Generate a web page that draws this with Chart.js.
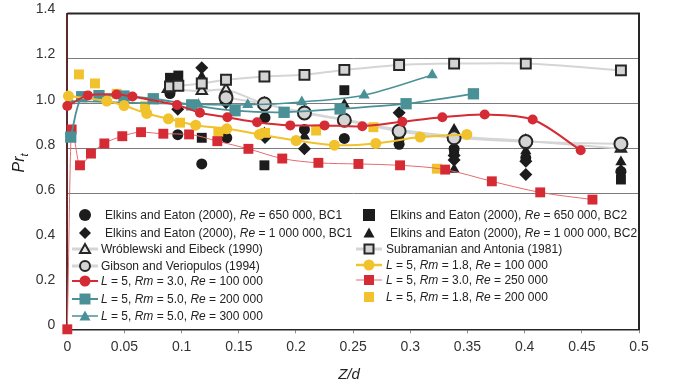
<!DOCTYPE html>
<html>
<head>
<meta charset="utf-8">
<script src="https://cdn.jsdelivr.net/npm/chart.js@4.4.0/dist/chart.umd.min.js"></script>
<style>
body{margin:0;background:#fff;}
#wrap{position:relative;width:676px;height:390px;font-family:"Liberation Sans",Arial,sans-serif;color:#222;}
#c{position:absolute;left:0;top:0;}
.lg{position:absolute;white-space:nowrap;font-size:12.5px;line-height:14px;transform-origin:0 50%;transform:translateY(-50%) scaleX(0.96);}
.ic{position:absolute;overflow:visible;}
#yt{position:absolute;left:20px;top:163px;transform:translate(-50%,-50%) rotate(-90deg);font-size:16px;font-style:italic;white-space:nowrap;}
#yt sub{font-size:11px;}
#xt{position:absolute;left:349px;top:373px;transform:translate(-50%,-50%);font-size:15px;font-style:italic;}
</style>
</head>
<body>
<div id="wrap">
<canvas id="c" width="676" height="390"></canvas>
<div id="yt">Pr<sub>t</sub></div>
<div id="xt">Z/d</div>
<div id="legend"></div>
</div>
<script>
// tick labels
var xTicks = ['0','0.05','0.1','0.15','0.2','0.25','0.3','0.35','0.4','0.45','0.5'];
var yTicks = ['0','0.2','0.4','0.6','0.8','1.0','1.2','1.4'];

// L = 5, Rm = 3.0, Re = 100 000
var r3a_x = [0, 0.018, 0.043, 0.057, 0.096, 0.116, 0.140, 0.166, 0.195, 0.225, 0.258, 0.293, 0.328, 0.365, 0.407, 0.449];
var r3a_y = [0.99, 1.037, 1.041, 1.032, 0.994, 0.96, 0.94, 0.918, 0.904, 0.904, 0.90, 0.92, 0.94, 0.952, 0.93, 0.794];
// L = 5, Rm = 3.0, Re = 250 000
var r3b_x = [0, 0.0038, 0.0111, 0.0207, 0.0324, 0.0481, 0.0645, 0.084, 0.1065, 0.1312, 0.1584, 0.188, 0.2196, 0.2546, 0.291, 0.3305, 0.3713, 0.4136, 0.4593];
var r3b_y = [0, 0.886, 0.727, 0.779, 0.824, 0.856, 0.874, 0.867, 0.864, 0.834, 0.80, 0.757, 0.738, 0.733, 0.727, 0.708, 0.656, 0.607, 0.575];
// L = 5, Rm = 1.8, Re = 100 000
var y1_x = [0.001, 0.0345, 0.0496, 0.0695, 0.0884, 0.1123, 0.1395, 0.168, 0.2001, 0.2336, 0.2698, 0.3086, 0.3494];
var y1_y = [1.034, 1.012, 0.992, 0.957, 0.933, 0.905, 0.889, 0.864, 0.837, 0.816, 0.824, 0.852, 0.864];
// L = 5, Rm = 1.8, Re = 200 000
var y2_x = [0.0102, 0.0242, 0.0432, 0.068, 0.0986, 0.1321, 0.173, 0.2176, 0.2677, 0.3232];
var y2_y = [1.13, 1.09, 1.044, 0.989, 0.916, 0.876, 0.871, 0.881, 0.896, 0.712];
// L = 5, Rm = 5.0, Re = 200 000
var t2_x = [0.003, 0.0126, 0.0277, 0.0496, 0.0752, 0.1088, 0.1467, 0.1896, 0.2386, 0.2963, 0.3552];
var t2_y = [0.852, 1.031, 1.036, 1.034, 1.022, 0.995, 0.969, 0.962, 0.977, 1.0, 1.044];
// L = 5, Rm = 5.0, Re = 300 000
var t3_x = [0.002, 0.1146, 0.1578, 0.2051, 0.2596, 0.3191];
var t3_y = [1.012, 0.997, 0.995, 1.008, 1.038, 1.127];
// Subramanian and Antonia (1981)
var sa_x = [0.0898, 0.0971, 0.1176, 0.1388, 0.1724, 0.2074, 0.2423, 0.2902, 0.3383, 0.401, 0.4842];
var sa_y = [1.077, 1.08, 1.09, 1.106, 1.121, 1.128, 1.15, 1.172, 1.178, 1.178, 1.148];
// Gibson and Veriopulos (1994)
var gv_x = [0.1388, 0.1724, 0.2074, 0.2423, 0.2902, 0.3383, 0.401, 0.4842];
var gv_y = [1.027, 0.999, 0.959, 0.927, 0.878, 0.849, 0.832, 0.822];
// Wroblewski and Eibeck (1990)
var we_x = [0.088, 0.1176, 0.1388, 0.1724, 0.2074, 0.2423, 0.2902, 0.3383, 0.401, 0.4842];
var we_y = [1.065, 1.056, 1.062, 1.0, 0.962, 0.93, 0.885, 0.856, 0.835, 0.80];
// Elkins and Eaton, Re = 650 000, BC1
var e1_x = [0.0898, 0.0966, 0.1176, 0.1395, 0.1729, 0.2074, 0.2423, 0.2902, 0.3383, 0.401, 0.4842];
var e1_y = [1.045, 0.863, 0.733, 0.849, 0.938, 0.886, 0.846, 0.82, 0.80, 0.76, 0.70];
// Elkins and Eaton, Re = 1 000 000, BC1
var e2_x = [0.0966, 0.1176, 0.1388, 0.1729, 0.2074, 0.2902, 0.3383, 0.3383, 0.401, 0.401];
var e2_y = [0.975, 1.16, 1.004, 0.85, 0.80, 0.96, 0.77, 0.75, 0.745, 0.686];
// Elkins and Eaton, Re = 650 000, BC2
var e3_x = [0.0898, 0.0971, 0.1176, 0.1724, 0.2423, 0.2902, 0.3383, 0.4842];
var e3_y = [1.115, 1.125, 0.849, 0.727, 1.06, 0.84, 0.79, 0.664];
// Elkins and Eaton, Re = 1 000 000, BC2
var e4_x = [0.1176, 0.1724, 0.2074, 0.2423, 0.2902, 0.3383, 0.3383, 0.401, 0.4842, 0.4842];
var e4_y = [1.12, 0.87, 0.856, 0.997, 0.85, 0.886, 0.708, 0.79, 0.742, 0.708];

function pts(xs, ys) {
	var out = [];
	for (var i = 0; i < xs.length; i++) out.push({x: xs[i], y: ys[i]});
	return out;
}

var RED = '#d42b34', YEL = '#f1c22c', TEAL = '#4a9197', GRAYL = '#d5d5d5', GRAYF = '#d4d4d4', BLK = '#1c1c1c';

function marks(label, data, style, r, fill) {
	return {label: label, data: data, showLine: false, pointStyle: style, pointRadius: r,
		backgroundColor: fill, borderColor: fill, pointBorderWidth: 0, clip: false};
}

var datasets = [
	{label: 'L=5 Rm=3.0 Re=100000', data: pts(r3a_x, r3a_y), borderColor: RED, borderWidth: 2, tension: 0.3,
		pointStyle: 'circle', pointRadius: 5, backgroundColor: RED, pointBorderWidth: 0, clip: false},
	{label: 'L=5 Rm=1.8 Re=100000', data: pts(y1_x, y1_y), borderColor: YEL, borderWidth: 2, tension: 0.3,
		pointStyle: 'circle', pointRadius: 5.5, backgroundColor: YEL, pointBorderWidth: 0, clip: false},
	{label: 'L=5 Rm=5.0 Re=200000', data: pts(t2_x, t2_y), borderColor: TEAL, borderWidth: 1.8, tension: 0.3,
		pointStyle: 'rect', pointRadius: 8, backgroundColor: TEAL, pointBorderWidth: 0, clip: false},
	{label: 'L=5 Rm=5.0 Re=300000', data: pts(t3_x, t3_y), borderColor: TEAL, borderWidth: 1.5, tension: 0.3,
		pointStyle: 'triangle', pointRadius: 6.5, backgroundColor: TEAL, pointBorderWidth: 0, clip: false},
	{label: 'L=5 Rm=3.0 Re=250000', data: pts(r3b_x, r3b_y), borderColor: '#e46c70', borderWidth: 1, cubicInterpolationMode: 'monotone',
		pointStyle: 'rect', pointRadius: 7, backgroundColor: RED, pointBorderColor: RED, pointBorderWidth: 0, clip: false},
	marks('L=5 Rm=1.8 Re=200000', pts(y2_x, y2_y), 'rect', 7, YEL),
	{label: 'Subramanian and Antonia (1981)', data: pts(sa_x, sa_y), borderColor: GRAYL, borderWidth: 2, tension: 0.3,
		pointStyle: 'rect', pointRadius: 7, backgroundColor: GRAYF, pointBorderColor: '#262626', pointBorderWidth: 2, clip: false},
	{label: 'Gibson and Veriopulos (1994)', data: pts(gv_x, gv_y), borderColor: GRAYL, borderWidth: 2, tension: 0.3,
		pointStyle: 'circle', pointRadius: 6.5, backgroundColor: GRAYF, pointBorderColor: '#262626', pointBorderWidth: 2, clip: false},
	{label: 'Wróblewski and Eibeck (1990)', data: pts(we_x, we_y), borderColor: GRAYL, borderWidth: 2, tension: 0.3,
		pointStyle: 'triangle', pointRadius: 6, backgroundColor: '#e6e6e6', pointBorderColor: '#262626', pointBorderWidth: 2, clip: false},
	marks('Elkins 650000 BC1', pts(e1_x, e1_y), 'circle', 5.5, BLK),
	marks('Elkins 1000000 BC1', pts(e2_x, e2_y), 'rectRot', 6.5, BLK),
	marks('Elkins 650000 BC2', pts(e3_x, e3_y), 'rect', 7, BLK),
	marks('Elkins 1000000 BC2', pts(e4_x, e4_y), 'triangle', 6.5, BLK)
];

var frame = {
	id: 'frame',
	afterDraw: function(chart) {
		var a = chart.chartArea, c = chart.ctx;
		c.save();
		c.strokeStyle = '#262626';
		c.lineWidth = 2;
		c.beginPath();
		c.moveTo(a.left, a.top);
		c.lineTo(a.right, a.top);
		c.lineTo(a.right, a.bottom);
		c.stroke();
		c.restore();
	}
};

var shownGrid = [0.6, 0.8, 1.0, 1.2];

new Chart(document.getElementById('c'), {
	type: 'line',
	data: {datasets: datasets},
	plugins: [frame],
	options: {
		responsive: false,
		animation: false,
		layout: {padding: {top: 13.5, right: 37, left: 0, bottom: 0}},
		plugins: {legend: {display: false}, tooltip: {enabled: false}},
		scales: {
			x: {
				type: 'linear', min: 0, max: 0.5,
				afterFit: function(s) { s.height = 60.7; },
				ticks: {stepSize: 0.05, padding: 5, color: '#333', font: {family: 'Liberation Sans', size: 14},
					maxRotation: 0, autoSkip: false,
					callback: function(v, i) { return xTicks[i]; }},
				grid: {drawOnChartArea: false, tickLength: 4, color: '#888'},
				border: {color: '#262626', width: 1.5}
			},
			y: {
				type: 'linear', min: 0, max: 1.4,
				afterFit: function(s) { s.width = 67.3; s.paddingTop = 0; s.paddingBottom = 0; },
				ticks: {stepSize: 0.2, padding: 12, labelOffset: -4, color: '#333', font: {family: 'Liberation Sans', size: 14},
					callback: function(v, i) { return yTicks[i]; }},
				grid: {drawTicks: false, lineWidth: 1,
					color: function(ctx) {
						var v = ctx.tick ? ctx.tick.value : -1;
						for (var k = 0; k < shownGrid.length; k++) if (Math.abs(v - shownGrid[k]) < 1e-6) return '#7c7c7c';
						return 'rgba(0,0,0,0)';
					}},
				border: {color: '#5c2a2a', width: 2}
			}
		}
	}
});

// legend (HTML, two columns)
function icon(shape, fill, stroke, sw, r, line, lw, cx, cy) {
	var s = '<svg class="ic" width="30" height="16" style="left:' + (cx - 15) + 'px;top:' + (cy - 8) + 'px">';
	if (line) s += '<line x1="2" y1="8" x2="28" y2="8" stroke="' + line + '" stroke-width="' + lw + '"/>';
	var st = stroke ? ' stroke="' + stroke + '" stroke-width="' + sw + '"' : '';
	if (shape == 'circle') s += '<circle cx="15" cy="8" r="' + r + '" fill="' + fill + '"' + st + '/>';
	if (shape == 'square') s += '<rect x="' + (15 - r) + '" y="' + (8 - r) + '" width="' + 2 * r + '" height="' + 2 * r + '" fill="' + fill + '"' + st + '/>';
	if (shape == 'diamond') s += '<polygon points="15,' + (8 - r) + ' ' + (15 + r) + ',8 15,' + (8 + r) + ' ' + (15 - r) + ',8" fill="' + fill + '"' + st + '/>';
	if (shape == 'triangle') s += '<polygon points="15,' + (8 - r) + ' ' + (15 + r) + ',' + (8 + r * 0.8) + ' ' + (15 - r) + ',' + (8 + r * 0.8) + '" fill="' + fill + '"' + st + '/>';
	return s + '</svg>';
}

var legendItems = [
	{cx: 85, tx: 105, cy: 215, ic: ['circle', BLK, null, 0, 6], html: 'Elkins and Eaton (2000), <i>Re</i> = 650 000, BC1'},
	{cx: 85, tx: 105, cy: 232.5, ic: ['diamond', BLK, null, 0, 6], html: 'Elkins and Eaton (2000), <i>Re</i> = 1 000 000, BC1'},
	{cx: 85, tx: 100.5, cy: 249, ic: ['triangle', '#e6e6e6', '#262626', 2, 5, GRAYL, 3], html: 'Wróblewski and Eibeck (1990)'},
	{cx: 85, tx: 100.5, cy: 266, ic: ['circle', GRAYF, '#262626', 2, 5, GRAYL, 3], html: 'Gibson and Veriopulos (1994)'},
	{cx: 85, tx: 100.5, cy: 281, ic: ['circle', RED, null, 0, 5.5, RED, 2], html: '<i>L</i> = 5, <i>Rm</i> = 3.0, <i>Re</i> = 100 000'},
	{cx: 85, tx: 100.5, cy: 298.5, ic: ['square', TEAL, null, 0, 5.5, TEAL, 2], html: '<i>L</i> = 5, <i>Rm</i> = 5.0, <i>Re</i> = 200 000'},
	{cx: 85, tx: 100.5, cy: 315.5, ic: ['triangle', TEAL, null, 0, 5.5, TEAL, 1.5], html: '<i>L</i> = 5, <i>Rm</i> = 5.0, <i>Re</i> = 300 000'},
	{cx: 369, tx: 390, cy: 215, ic: ['square', BLK, null, 0, 6], html: 'Elkins and Eaton (2000), <i>Re</i> = 650 000, BC2'},
	{cx: 369, tx: 390, cy: 232.5, ic: ['triangle', BLK, null, 0, 5.5], html: 'Elkins and Eaton (2000), <i>Re</i> = 1 000 000, BC2'},
	{cx: 369, tx: 386, cy: 248.5, ic: ['square', GRAYF, '#262626', 2, 4.5, GRAYL, 3], html: 'Subramanian and Antonia (1981)'},
	{cx: 369, tx: 386, cy: 265, ic: ['circle', YEL, null, 0, 5.5, YEL, 2.5], html: '<i>L</i> = 5, <i>Rm</i> = 1.8, <i>Re</i> = 100 000'},
	{cx: 369, tx: 386, cy: 280, ic: ['square', RED, null, 0, 5, '#e46c70', 1], html: '<i>L</i> = 5, <i>Rm</i> = 3.0, <i>Re</i> = 250 000'},
	{cx: 369, tx: 386, cy: 297, ic: ['square', YEL, null, 0, 5], html: '<i>L</i> = 5, <i>Rm</i> = 1.8, <i>Re</i> = 200 000'}
];

var lg = '';
for (var i = 0; i < legendItems.length; i++) {
	var it = legendItems[i], a = it.ic;
	lg += icon(a[0], a[1], a[2], a[3], a[4], a[5], a[6], it.cx, it.cy);
	lg += '<div class="lg" style="left:' + it.tx + 'px;top:' + it.cy + 'px">' + it.html + '</div>';
}
document.getElementById('legend').innerHTML = lg;
</script>
</body>
</html>
